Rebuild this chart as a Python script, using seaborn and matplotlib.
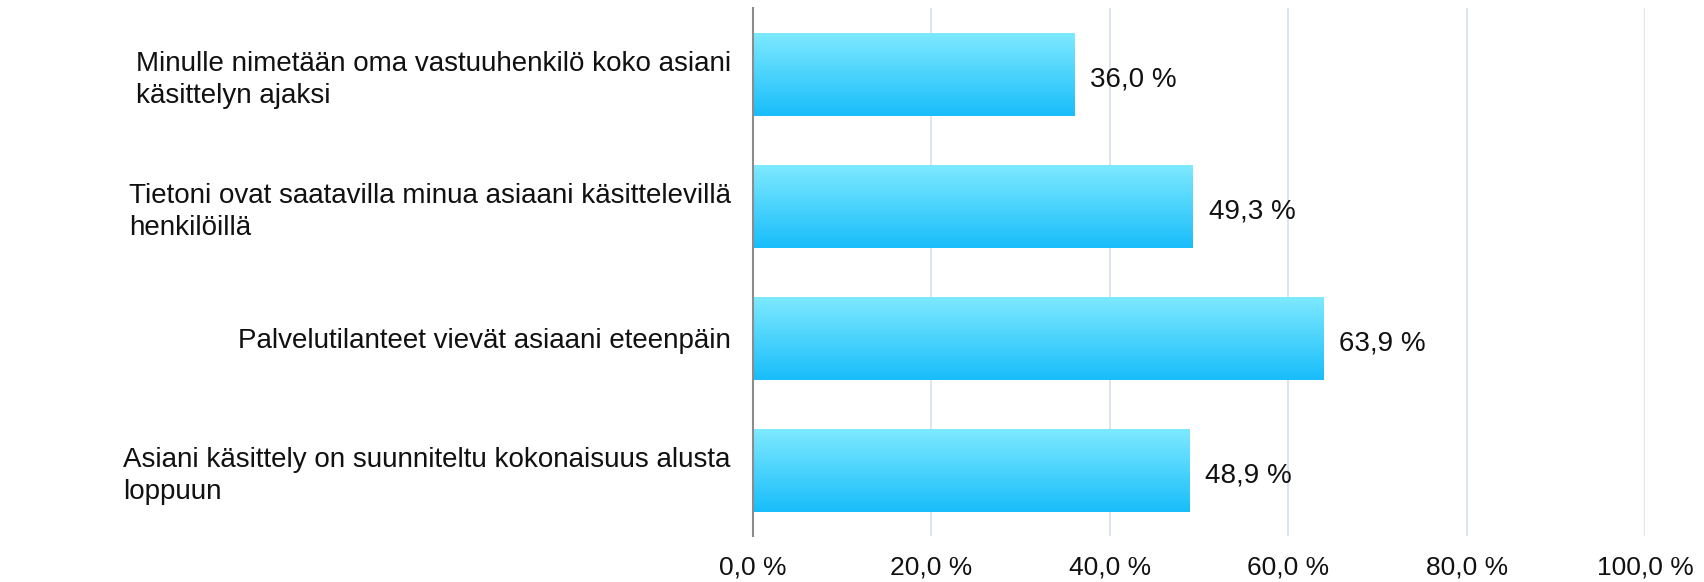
import numpy as np
import pandas as pd
import matplotlib
matplotlib.use("Agg")
import matplotlib.pyplot as plt
from matplotlib.patches import Shadow
import seaborn as sns

categories = [
    "Minulle nimetään oma vastuuhenkilö koko asiani\nkäsittelyn ajaksi",
    "Tietoni ovat saatavilla minua asiaani käsittelevillä\nhenkilöillä",
    "Palvelutilanteet vievät asiaani eteenpäin",
    "Asiani käsittely on suunniteltu kokonaisuus alusta\nloppuun",
]
values = [36.0, 49.3, 63.9, 48.9]
ticks = [0, 20, 40, 60, 80, 100]

df = pd.DataFrame({"label": categories, "value": values})

sns.set_theme(style="white")
plt.rcParams["font.family"] = ["Liberation Sans", "DejaVu Sans"]

fig = plt.figure(figsize=(17.04, 5.82), dpi=100)
ax = fig.add_axes([0.4419, 0.079, 0.5235, 0.9064])

sns.barplot(data=df, x="value", y="label", orient="h", width=0.63,
            color="#4dd0fb", edgecolor="none", ax=ax, zorder=3)

# vertical gradient on each bar, light cyan on top to deeper blue at bottom
top_c = np.array([0x7f, 0xea, 0xff]) / 255
bot_c = np.array([0x18, 0xbd, 0xfa]) / 255
t = np.linspace(0, 1, 256)[:, None]
grad = (top_c * (1 - t) + bot_c * t).reshape(256, 1, 3)

for p in list(ax.patches):
    x0, y0, w, h = p.get_x(), p.get_y(), p.get_width(), p.get_height()
    sh = Shadow(p, 2.5, -3, facecolor="#7a7a7a", alpha=0.45, zorder=2)
    ax.add_patch(sh)
    im = ax.imshow(grad, extent=(x0, x0 + w, y0 + h, y0), origin="upper",
                   aspect="auto", zorder=4, interpolation="bilinear")
    im.set_clip_path(p)

ax.set_xlim(0, 100)
ax.set_ylim(3.5, -0.5)

for i, v in enumerate(values):
    ax.text(v + 1.8, i + 0.04, f"{v:.1f} %".replace(".", ","), va="center",
            ha="left", fontsize=20, color="#111111", zorder=5)

ax.set_xticks(ticks)
ax.set_xticklabels([f"{t:.1f} %".replace(".", ",") for t in ticks], fontsize=19)
ax.tick_params(axis="x", length=0, pad=14)
ax.tick_params(axis="y", length=0, pad=16)
for lab in ax.get_yticklabels():
    lab.set_fontsize(20)
    lab.set_multialignment("left")
    lab.set_linespacing(1.3)
    lab.set_color("#111111")
for lab in ax.get_xticklabels():
    lab.set_color("#111111")
ax.set_xlabel("")
ax.set_ylabel("")

ax.grid(axis="x", color="#d9e2ec", linewidth=1.3, zorder=0)
ax.set_axisbelow(True)
for s in ["top", "right", "bottom"]:
    ax.spines[s].set_visible(False)
ax.spines["left"].set_color("#8c8c8c")
ax.spines["left"].set_linewidth(1.5)
ax.spines["left"].set_zorder(6)

fig.savefig("out.png", dpi=100)
